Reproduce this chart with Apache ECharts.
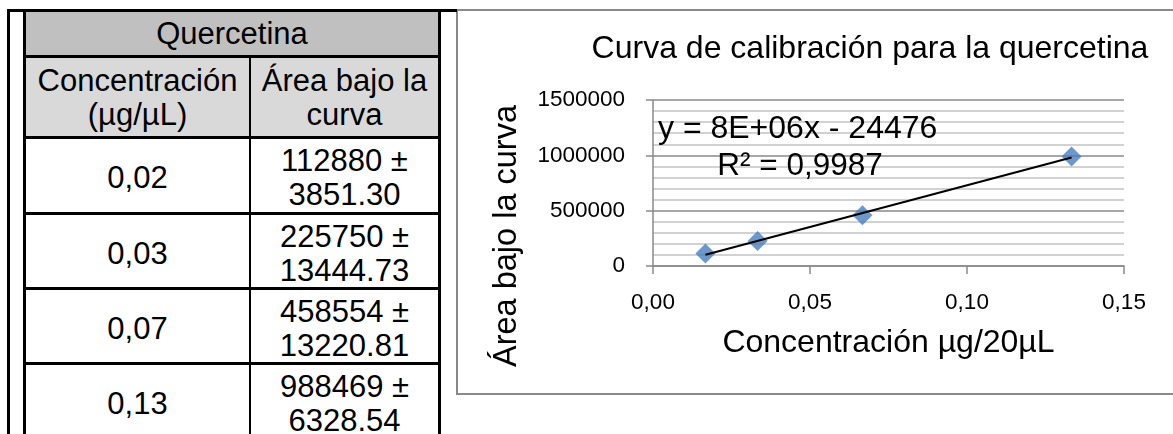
<!DOCTYPE html>
<html>
<head>
<meta charset="utf-8">
<script src="https://cdn.jsdelivr.net/npm/echarts@6/dist/echarts.min.js"></script>
<style>
  html, body { margin: 0; padding: 0; background: #fff; overflow: hidden; }
  body { width: 1173px; height: 434px; position: relative; font-family: "Liberation Sans", Arial, sans-serif; }
  #chart { position: absolute; left: 0; top: 0; width: 1173px; height: 434px; }
  .ln { position: absolute; background: #000; }
  .bg { position: absolute; }
  .cell { position: absolute; display: flex; flex-direction: column; align-items: center; justify-content: center;
          font-size: 31px; line-height: 34px; color: #000; text-align: center; white-space: nowrap; }
  #box { position: absolute; left: 456px; top: 9px; width: 740px; height: 382px; border: 2px solid #898989; box-sizing: content-box; }
</style>
</head>
<body>
<div id="box"></div>
<div id="table"></div>
<div id="chart"></div>
<script>
// ---- data ----
const tableTitle = 'Quercetina';
const colHeaders = [['Concentración', '(µg/µL)'], ['Área bajo la', 'curva']];
const tableConc = ['0,02', '0,03', '0,07', '0,13'];
const tableArea = ['112880', '225750', '458554', '988469'];
const tableSD = ['3851.30', '13444.73', '13220.81', '6328.54'];

const concentrations = [0.0167, 0.0333, 0.0667, 0.1333]; // µg/20µL
const areas = [112880, 225750, 458554, 988469];

const chartTitle = 'Curva de calibración para la quercetina';
const xAxisName = 'Concentración µg/20µL';
const yAxisName = 'Área bajo la curva';
const equationText = 'y = 8E+06x - 24476';
const r2Text = 'R² = 0,9987';
const xTicks = [0, 0.05, 0.10, 0.15];
const yTicks = [0, 500000, 1000000, 1500000];

// ---- table (HTML) ----
const T = document.getElementById('table');
function add(cls, css, html) {
  const d = document.createElement('div');
  d.className = cls;
  Object.assign(d.style, css);
  if (html !== undefined) d.innerHTML = html;
  T.appendChild(d);
  return d;
}
const L = 26, R = 438, MID = 249;
const rowTops = [138, 214, 289, 364];
const rowH = 74;
add('bg', {left: L + 'px', top: '12px', width: (R - L) + 'px', height: '43px', background: '#c0c0c0'});
add('bg', {left: L + 'px', top: '57px', width: (R - L) + 'px', height: '79px', background: '#d9d9d9'});
add('cell', {left: L + 'px', top: '12px', width: (R - L) + 'px', height: '44px'}, tableTitle);
add('cell', {left: L + 'px', top: '57px', width: (MID - L) + 'px', height: '82px'}, colHeaders[0].join('<br>'));
add('cell', {left: (MID + 2) + 'px', top: '57px', width: (R - MID - 2) + 'px', height: '82px'}, colHeaders[1].join('<br>'));
tableConc.forEach((c, i) => {
  add('cell', {left: L + 'px', top: (rowTops[i] + 3) + 'px', width: (MID - L) + 'px', height: rowH + 'px'}, c);
  add('cell', {left: (MID + 2) + 'px', top: (rowTops[i] + 3) + 'px', width: (R - MID - 2) + 'px', height: rowH + 'px'},
      tableArea[i] + ' ±<br>' + tableSD[i]);
});
add('ln', {left: '7px', top: '9px', width: '2.5px', height: '425px'});
add('ln', {left: '7px', top: '9px', width: '450px', height: '3px'});
add('ln', {left: '23px', top: '9px', width: '3px', height: '425px'});
add('ln', {left: '438px', top: '9px', width: '3px', height: '425px'});
add('ln', {left: '23px', top: '55px', width: '418px', height: '2.5px'});
add('ln', {left: '23px', top: '136px', width: '418px', height: '2.5px'});
[212, 287, 362].forEach(y => add('ln', {left: '23px', top: y + 'px', width: '418px', height: '2.5px'}));
add('ln', {left: MID + 'px', top: '57px', width: '2px', height: '377px'});

// ---- regression line from data ----
const n = concentrations.length;
const mx = concentrations.reduce((a, b) => a + b, 0) / n;
const my = areas.reduce((a, b) => a + b, 0) / n;
let sxy = 0, sxx = 0;
for (let i = 0; i < n; i++) { sxy += (concentrations[i] - mx) * (areas[i] - my); sxx += (concentrations[i] - mx) ** 2; }
const slope = sxy / sxx, intercept = my - slope * mx;
const xmin = Math.min(...concentrations), xmax = Math.max(...concentrations);
const trend = [[xmin, slope * xmin + intercept], [xmax, slope * xmax + intercept]];

// ---- chart ----
const FONT = '"Liberation Sans", Arial, sans-serif';
const chart = echarts.init(document.getElementById('chart'), null, {renderer: 'canvas'});
const gridCol = '#8a8a8a';
chart.setOption({
  animation: false,
  textStyle: {fontFamily: FONT, color: '#000'},
  grid: {left: 653, right: 49, top: 100, bottom: 168, containLabel: false},
  xAxis: {
    type: 'value', min: xTicks[0], max: xTicks[xTicks.length - 1], interval: 0.05,
    name: xAxisName, nameLocation: 'middle', nameGap: 61,
    nameTextStyle: {fontSize: 32, color: '#000', fontFamily: FONT},
    axisLine: {show: true, lineStyle: {color: gridCol, width: 1.5}},
    axisTick: {show: true, length: 8, lineStyle: {color: gridCol, width: 1.5}},
    axisLabel: {fontSize: 22.5, color: '#000', margin: 25, fontFamily: FONT,
      formatter: v => v.toFixed(2).replace('.', ',')},
    splitLine: {show: false}
  },
  yAxis: {
    type: 'value', min: yTicks[0], max: yTicks[yTicks.length - 1], interval: 500000,
    axisLine: {show: true, lineStyle: {color: gridCol, width: 1.5}},
    axisTick: {show: true, length: 7, lineStyle: {color: gridCol, width: 1.5}},
    axisLabel: {fontSize: 22.5, color: '#000', margin: 28, fontFamily: FONT, formatter: v => String(v)},
    splitLine: {show: true, lineStyle: {color: gridCol, width: 1.5}},
    minorTick: {show: false, splitNumber: 5},
    minorSplitLine: {show: true, lineStyle: {color: '#c4c4c4', width: 1.5}}
  },
  series: [
    {
      type: 'scatter', data: concentrations.map((x, i) => [x, areas[i]]),
      symbol: 'diamond', symbolSize: 20, itemStyle: {color: '#4a7ebb'}, z: 3
    },
    {
      type: 'line', data: trend, showSymbol: false, symbol: 'none',
      lineStyle: {color: '#000', width: 2}, z: 4, silent: true
    }
  ],
  graphic: [
    {type: 'text', x: 870, y: 49, z: 10,
      style: {text: chartTitle, font: '32px ' + FONT, fill: '#000', align: 'center', verticalAlign: 'middle'}},
    {type: 'text', x: 507, y: 236, rotation: Math.PI / 2, z: 10,
      style: {text: yAxisName, font: '32.5px ' + FONT, fill: '#000', align: 'center', verticalAlign: 'middle'}},
    {type: 'text', x: 658, y: 129, z: 10,
      style: {text: equationText, font: '32px ' + FONT, fill: '#000', align: 'left', verticalAlign: 'middle'}},
    {type: 'text', x: 800, y: 166, z: 10,
      style: {text: r2Text, font: '31.5px ' + FONT, fill: '#000', align: 'center', verticalAlign: 'middle'}}
  ]
});
</script>
</body>
</html>
